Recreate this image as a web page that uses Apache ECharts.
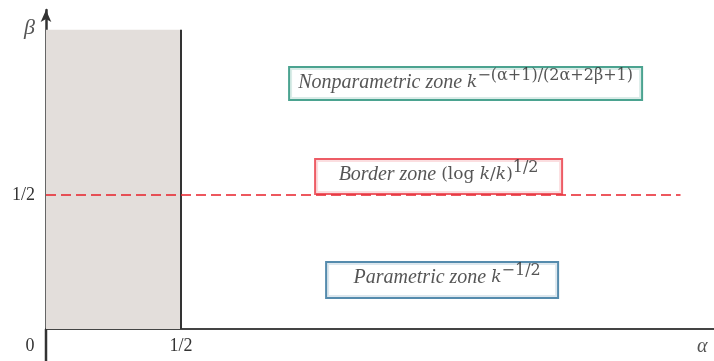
<!DOCTYPE html>
<html>
<head>
<meta charset="utf-8">
<script src="https://cdn.jsdelivr.net/npm/echarts@6/dist/echarts.min.js"></script>
<style>
html, body { margin: 0; padding: 0; background: #fff; }
#main { width: 714px; height: 361px; }
</style>
</head>
<body>
<div id="main"></div>
<script>
// ticks on the axes
var xTicks = [0, 0.5];
var xTickLabels = ['0', '1/2'];
var yTicks = [0.5];
var yTickLabels = ['1/2'];

// regions (alpha, beta)
var shadedZone = [[0, 0], [0.5, 1.116]];
var borderLine = [[0, 0.5], [2.35, 0.5]];
var divider = [[0.5, 0], [0.5, 1.116]];
// axis lines run a little past the origin
var xAxisTail = [[-0.1407, 0], [0, 0]];
var yAxisTail = [[0, -0.1194], [0, 0]];

// where the zone boxes sit
var zonePos = [[1.554, 0.916], [1.454, 0.569], [1.467, 0.183]];

var myChart = echarts.init(document.getElementById('main'));

var serif = 'Liberation Serif';
var math = 'DejaVu Serif';

function boxLabel(text, color, w, h, pad, rich) {
    return {
        show: true,
        position: 'inside',
        formatter: text,
        width: w,
        height: h,
        align: 'center',
        verticalAlign: 'middle',
        padding: pad,
        backgroundColor: '#fff',
        borderColor: color,
        borderWidth: 2,
        rich: rich
    };
}

var richBase = {
    t: { fontFamily: serif, fontStyle: 'italic', fontSize: 20, color: '#2b2b2b', lineHeight: 30 },
    m: { fontFamily: math, fontSize: 17, color: '#2b2b2b', lineHeight: 30 },
    i: { fontFamily: math, fontStyle: 'italic', fontSize: 17, color: '#2b2b2b', lineHeight: 30 },
    s: { fontFamily: math, fontSize: 16, color: '#2b2b2b', lineHeight: 10, verticalAlign: 'top' }
};

option = {
    animation: false,
    grid: { left: 46, right: 0, top: 10, bottom: 32, outerBoundsMode: 'none', containLabel: false },
    xAxis: {
        type: 'value',
        min: 0,
        max: 2.474,
        axisLine: { onZero: false, lineStyle: { color: '#444', width: 2 } },
        axisTick: { show: false },
        splitLine: { show: false },
        axisLabel: {
            customValues: xTicks,
            margin: 8,
            fontFamily: serif,
            fontSize: 18,
            color: '#333',
            formatter: function (v) {
                var i = xTicks.indexOf(v);
                if (v === 0) return '{z|' + xTickLabels[i] + '}';
                return xTickLabels[i];
            },
            rich: { z: { fontFamily: serif, fontSize: 18, color: '#333', padding: [0, 32, 0, 0] } }
        },
        name: '{a|α}',
        nameLocation: 'end',
        nameGap: -17,
        nameTextStyle: {
            rich: { a: { fontFamily: serif, fontStyle: 'italic', fontSize: 20, color: '#555', padding: [36, 0, 0, 0] } }
        }
    },
    yAxis: {
        type: 'value',
        min: 0,
        max: 1.19,
        axisLine: { onZero: false, symbol: ['none', 'arrow'], symbolSize: [8, 12], lineStyle: { color: '#333', width: 2.5 } },
        axisTick: { show: false },
        splitLine: { show: false },
        axisLabel: {
            customValues: yTicks,
            margin: 11,
            fontFamily: serif,
            fontSize: 18,
            color: '#333',
            formatter: function (v) { return yTickLabels[yTicks.indexOf(v)]; }
        },
        name: 'β',
        nameLocation: 'end',
        nameGap: -18,
        nameTextStyle: { fontFamily: serif, fontStyle: 'italic', fontSize: 22, color: '#555', align: 'right', verticalAlign: 'middle', padding: [0, 11, 0, 0] }
    },
    series: [{
        type: 'line',
        data: [],
        silent: true,
        markArea: {
            silent: true,
            itemStyle: { color: '#e3dedb' },
            data: [[{ coord: shadedZone[0] }, { coord: shadedZone[1] }]]
        }
    }, {
        type: 'line',
        data: divider,
        symbol: 'none',
        lineStyle: { color: '#333', width: 2 }
    }, {
        type: 'line',
        data: xAxisTail,
        symbol: 'none',
        clip: false,
        lineStyle: { color: '#444', width: 2 }
    }, {
        type: 'line',
        data: yAxisTail,
        symbol: 'none',
        clip: false,
        lineStyle: { color: '#333', width: 2.5 }
    }, {
        type: 'line',
        data: borderLine,
        symbol: 'none',
        lineStyle: { color: '#e8202a', width: 1.5, type: [10, 5] }
    }, {
        type: 'scatter',
        symbolSize: 1,
        itemStyle: { color: 'rgba(0,0,0,0)' },
        z: 5,
        data: [{
            value: zonePos[0],
            label: boxLabel('{t|Nonparametric zone }{i|k}{s|−(α+1)/(2α+2β+1)}', '#1e8c74', 351, 31, [0, 0, 0, 0], richBase)
        }, {
            value: zonePos[1],
            label: boxLabel('{t|Border zone }{m|(log }{i|k}{m|/}{i|k}{m|)}{s|1/2}', '#e8333f', 245, 33, [0, 0, 0, 0], richBase)
        }, {
            value: zonePos[2],
            label: boxLabel('{t|Parametric zone }{i|k}{s|−1/2}', '#2a6e99', 220, 34, [0, 0, 0, 10], richBase)
        }]
    }]
};

myChart.setOption(option);
</script>
</body>
</html>
